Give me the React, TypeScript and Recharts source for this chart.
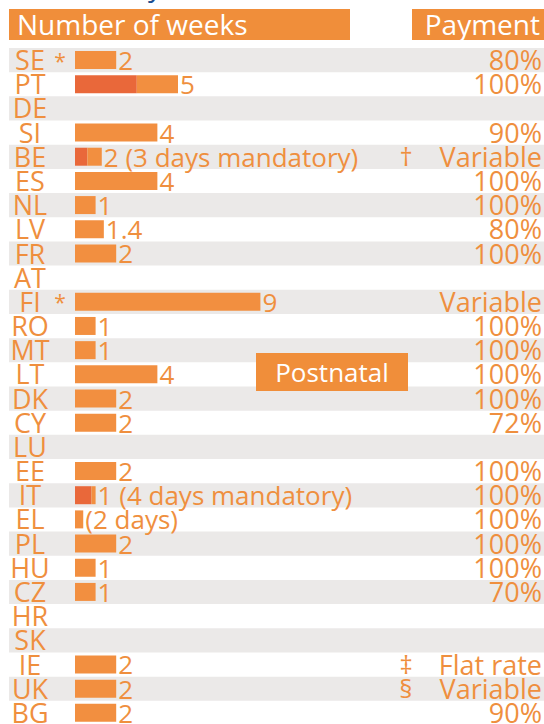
import { BarChart, Bar, XAxis, YAxis, ReferenceArea, LabelList } from 'recharts'

const countries = ['SE','PT','DE','SI','BE','ES','NL','LV','FR','AT','FI','RO','MT','LT','DK','CY','LU','EE','IT','EL','PL','HU','CZ','HR','SK','IE','UK','BG']
// weeks of leave, the mandatory part drawn darker
const totalWeeks = [2,5,null,4,1.3,4,1,1.4,2,null,9,1,1,4,2,2,null,2,1,0.4,2,1,1,null,null,2,2,2]
const mandatoryWeeks = [0,3,0,0,0.6,0,0,0,0,0,0,0,0,0,0,0,0,0,0.8,0,0,0,0,0,0,0,0,0]
const weekLabels = ['2','5','','4','2 (3 days mandatory)','4','1','1.4','2','','9','1','1','4','2','2','','2','1 (4 days mandatory)','(2 days)','2','1','1','','','2','2','2']
const payment = ['80%','100%','','90%','Variable','100%','100%','80%','100%','','Variable','100%','100%','100%','100%','72%','','100%','100%','100%','100%','100%','70%','','','Flat rate','Variable','90%']
const countryNotes = ['*','','','','','','','','','','*','','','','','','','','','','','','','','','','','']
const paymentNotes = ['','','','','†','','','','','','','','','','','','','','','','','','','','','‡','§','']

const ORANGE = '#f28f40'
const DARK = '#e9683a'
const TEXT = '#ef8f3e'
const BAND = '#ebe9e8'
const FONT = '"Open Sans", sans-serif'

const WEEK_PX = 20.6
const BAR_START = 75
const PLOT_LEFT = 9
const W = 544

const data = countries.map((c, i) => {
  const total = totalWeeks[i]
  const mand = mandatoryWeeks[i]
  return {
    country: c,
    mandatory: total == null ? null : mand,
    rest: total == null ? null : +(total - mand).toFixed(2),
    label: weekLabels[i],
  }
})

function RowTick(props: any) {
  const { y, payload } = props
  const i = countries.indexOf(payload.value)
  if (i < 0) return null
  const by = y + 9.5
  return (
    <g fontFamily={FONT} fill={TEXT}>
      <text x={30} y={by + 0.5} fontSize={27} textAnchor="middle">{countries[i]}</text>
      {countryNotes[i] && <text x={60} y={by - 1} fontSize={21} textAnchor="middle">{countryNotes[i]}</text>}
      {paymentNotes[i] && <text x={406} y={by} fontSize={26} textAnchor="middle">{paymentNotes[i]}</text>}
      {payment[i] && <text x={542} y={by + 0.5} fontSize={27} textAnchor="end">{payment[i]}</text>}
    </g>
  )
}

function WeekLabel(props: any) {
  const vb = props.viewBox || props
  if (!props.value) return null
  const x = vb.x + vb.width + 2
  const y = vb.y + vb.height / 2 + 10
  return (
    <text x={x} y={y} fontFamily={FONT} fontSize={26} fill={TEXT}>{props.value}</text>
  )
}

const headStyle: any = {
  position: 'absolute', top: 9, height: 31, background: '#f08e3a', color: '#fff',
  fontFamily: FONT, fontSize: 28, lineHeight: '31px', whiteSpace: 'nowrap',
}

export default function App() {
  return (
    <div style={{ position: 'absolute', left: 0, top: 0, width: W, height: 724, overflow: 'hidden', background: '#fff' }}>
      <div style={{ position: 'absolute', left: 148, top: -34, fontFamily: FONT, fontSize: 28, color: '#1d4f8f' }}>y</div>
      <BarChart
        width={W}
        height={725}
        data={data}
        layout="vertical"
        margin={{ top: 48, right: 0, bottom: 0, left: PLOT_LEFT }}
        barSize={18}
      >
        <XAxis
          type="number"
          hide
          domain={[-(BAR_START - PLOT_LEFT) / WEEK_PX, (W - BAR_START) / WEEK_PX]}
          allowDataOverflow
        />
        <YAxis
          type="category"
          dataKey="country"
          mirror
          width={60}
          axisLine={false}
          tickLine={false}
          interval={0}
          tick={<RowTick />}
        />
        {countries.filter((_, i) => i % 2 === 0).map(c => (
          <ReferenceArea key={c} y1={c} y2={c} fill={BAND} fillOpacity={1} stroke="none" ifOverflow="visible" />
        ))}
        <Bar dataKey="mandatory" stackId="w" fill={DARK} isAnimationActive={false} />
        <Bar dataKey="rest" stackId="w" fill={ORANGE} isAnimationActive={false}>
          <LabelList dataKey="label" content={<WeekLabel />} />
        </Bar>
      </BarChart>
      <div style={{ ...headStyle, left: 9, width: 341, paddingLeft: 8, boxSizing: 'border-box' }}>Number of weeks</div>
      <div style={{ ...headStyle, left: 412, width: 132, textAlign: 'right', paddingRight: 4, boxSizing: 'border-box' }}>Payment</div>
      <div style={{ ...headStyle, top: 353, left: 256, width: 152, height: 38, lineHeight: '38px', fontSize: 26, textAlign: 'center' }}>Postnatal</div>
    </div>
  )
}
